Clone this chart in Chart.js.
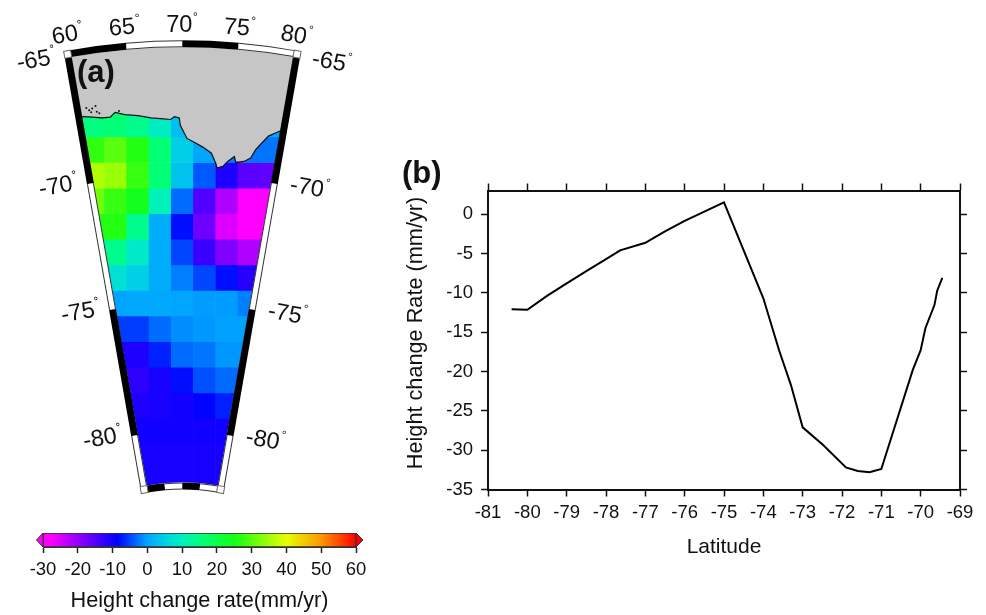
<!doctype html>
<html lang="en">

<head>
    <meta charset="utf-8">
    <title>Height change rate</title>
    <script src="https://cdn.jsdelivr.net/npm/chart.js@4"></script>
    <style>
        body { margin: 0; background: #fff; }
        canvas { position: absolute; }
    </style>
</head>

<body>
    <canvas id="map" width="400" height="510" style="left:0;top:0"></canvas>
    <canvas id="bar" width="400" height="95" style="left:0;top:520px"></canvas>
    <canvas id="line" width="586" height="420" style="left:400px;top:150px"></canvas>

    <script>
        // panel (b)
        var latitudes = [-80.4, -80, -79.5, -79, -78.5, -78, -77.64, -77, -76.5, -76, -75, -74, -73.6, -73.3, -73, -72.48, -71.9, -71.6, -71.3, -71, -70.2, -70, -69.88, -69.65, -69.58, -69.45];
        var heightRates = [-12.1, -12.15, -10.4, -8.8, -7.25, -5.72, -4.6, -3.65, -2.2, -0.85, 1.5, -10.7, -17.3, -21.7, -27.1, -29.35, -32.2, -32.65, -32.8, -32.4, -19.8, -17.3, -14.5, -11.56, -9.74, -8.1];

        // panel (a): grid cells, one row per latitude, columns are map distance from the 70E meridian
        var rowLats = [-68, -69, -70, -71, -72, -73, -74, -75, -76, -77, -78, -79, -80, -81, -82];
        var colX = [-3.49, -2.62, -1.75, -0.87, 0, 0.87, 1.75, 2.62, 3.49];
        var cellRates = [
            [15, 16, 14, 9.5, 3, 0, -1, -1, 0],
            [27, 30, 26, 16, 5, 0, -2.5, -2.5, -2.5],
            [36, 34.5, 27.5, 16, 3.5, -4, -11, -15.5, -16],
            [31.5, 27.5, 24, 10.5, -3, -14.8, -22, -28, -28],
            [26, 26, 14, 1, -8, -17, -25.5, -28, -28],
            [14, 14, 9, 1, -5, -13, -18.5, -22, -22],
            [7.5, 7.5, 5, 1, -2, -5, -8, -11.5, -11.5],
            [0, 0, 0.5, 0.5, 0, -0.5, -0.5, -2, -2],
            [-5.5, -5.5, -5.5, -3, -1.2, -0.7, -0.2, -0.2, -0.2],
            [-11, -11, -11, -7, -3, -2.5, -0.7, -0.7, -0.7],
            [-12, -12, -12, -10.5, -8, -4.5, -3, -3, -3],
            [-11, -11, -11, -10.5, -10, -8.5, -7, -7, -7],
            [-10, -10, -10, -10, -10, -10, -10, -10, -10],
            [-10.5, -10.5, -10.5, -10.5, -10.5, -10.5, -10.5, -10.5, -10.5],
            [-10.5, -10.5, -10.5, -10.5, -10.5, -10.5, -10.5, -10.5, -10.5]
        ];
        var coastX = [-8, -3.92, -3.54, -3.15, -2.83, -2.64, -2.26, -1.74, -1.23, -0.85, -0.46, -0.31, -0.12, -0.08, 0.18, 0.50, 0.82, 1.14, 1.31, 1.36, 1.59, 1.78, 2.04, 2.10, 2.42, 2.68, 2.87, 3.10, 3.38, 3.83, 8];
        var coastLat = [-67.71, -67.71, -67.73, -67.76, -67.73, -67.54, -67.63, -67.67, -67.76, -67.79, -67.82, -67.71, -67.76, -68.05, -68.56, -68.73, -68.91, -69.14, -69.53, -69.72, -69.65, -69.46, -69.27, -69.50, -69.46, -69.33, -69.01, -68.76, -68.47, -68.27, -68.2];
        var islandX = [-3.77, -3.66, -3.54, -3.41, -3.36, -3.26, -3.58, -2.49];
        var islandLat = [-67.37, -67.46, -67.39, -67.29, -67.52, -67.58, -67.54, -67.49];

        var lonTicks = [60, 65, 70, 75, 80];
        var latTicks = [-65, -70, -75, -80];

        // colour bar
        var colorValues = [-28, -8.7, 0, 6, 10, 15, 25, 40, 50, 60];
        var colorRgb = [[255, 0, 255], [0, 0, 255], [0, 165, 255], [0, 215, 225], [0, 240, 190], [0, 255, 128], [20, 255, 20], [230, 255, 0], [255, 150, 0], [255, 0, 0]];

        var FONT = '"Liberation Sans", Arial, sans-serif';
        var INK = '#111';

        function rateColor(v) {
            if (v <= colorValues[0]) return 'rgb(' + colorRgb[0].join(',') + ')';
            for (var i = 1; i < colorValues.length; i++) {
                if (v <= colorValues[i]) {
                    var t = (v - colorValues[i - 1]) / (colorValues[i] - colorValues[i - 1]);
                    var a = colorRgb[i - 1], b = colorRgb[i];
                    return 'rgb(' + Math.round(a[0] + (b[0] - a[0]) * t) + ',' + Math.round(a[1] + (b[1] - a[1]) * t) + ',' + Math.round(a[2] + (b[2] - a[2]) * t) + ')';
                }
            }
            return 'rgb(255,0,0)';
        }

        // polar projection: one map unit is one degree of latitude, the pole is at y = -90
        function project(scales, lon, lat) {
            var r = lat + 90, a = (lon - 70) * Math.PI / 180;
            return { x: scales.x.getPixelForValue(r * Math.sin(a)), y: scales.y.getPixelForValue(-90 + r * Math.cos(a)) };
        }

        function radius(scales, lat) {
            return scales.y.getPixelForValue(-90) - scales.y.getPixelForValue(lat);
        }

        function mapPath(ctx, scales) {
            var cx = scales.x.getPixelForValue(0), cy = scales.y.getPixelForValue(-90);
            var a = 10 * Math.PI / 180;
            ctx.beginPath();
            ctx.arc(cx, cy, radius(scales, -65), -Math.PI / 2 - a, -Math.PI / 2 + a);
            ctx.arc(cx, cy, radius(scales, -82), -Math.PI / 2 + a, -Math.PI / 2 - a, true);
            ctx.closePath();
        }

        var clipPlugin = {
            id: 'clipMap',
            beforeDatasetsDraw: function(chart) {
                chart.ctx.save();
                mapPath(chart.ctx, chart.scales);
                chart.ctx.clip();
            },
            afterDatasetsDraw: function(chart) {
                chart.ctx.restore();
            }
        };

        function band(ctx, draw, black) {
            ctx.lineCap = 'butt';
            ctx.strokeStyle = black ? '#000' : '#333';
            ctx.lineWidth = 7;
            draw();
            if (!black) {
                ctx.strokeStyle = '#fff';
                ctx.lineWidth = 5;
                draw();
            }
        }

        function degreeLabel(ctx, txt, x, y, rot) {
            ctx.save();
            ctx.translate(x, y);
            ctx.rotate(rot * Math.PI / 180);
            ctx.fillStyle = INK;
            ctx.font = '23.5px ' + FONT;
            ctx.textAlign = 'center';
            ctx.textBaseline = 'middle';
            ctx.fillText(txt, 0, 0);
            var w = ctx.measureText(txt).width;
            ctx.font = '12px ' + FONT;
            ctx.fillText('°', w / 2 + 3, -8);
            ctx.restore();
        }

        var framePlugin = {
            id: 'frameMap',
            afterDatasetsDraw: function(chart) {
                var ctx = chart.ctx, s = chart.scales;
                var cx = s.x.getPixelForValue(0), cy = s.y.getPixelForValue(-90);
                var off = 3.5;
                ctx.save();

                // longitude bands along the top and bottom arcs
                [[-65, off], [-82, -off]].forEach(function(edge) {
                    var r = radius(s, edge[0]) + edge[1];
                    for (var i = 0; i < 4; i++) {
                        var a0 = -Math.PI / 2 + (lonTicks[i] - 70) * Math.PI / 180;
                        var a1 = -Math.PI / 2 + (lonTicks[i + 1] - 70) * Math.PI / 180;
                        band(ctx, function() {
                            ctx.beginPath();
                            ctx.arc(cx, cy, r, a0, a1);
                            ctx.stroke();
                        }, i % 2 == 0);
                    }
                });

                // latitude bands along both side meridians
                var stops = latTicks.concat([-82]);
                [[60, -1], [80, 1]].forEach(function(side) {
                    var a = (side[0] - 70) * Math.PI / 180;
                    var nx = Math.cos(a) * side[1] * off, ny = Math.sin(a) * side[1] * off;
                    for (var i = 0; i < 4; i++) {
                        var p0 = project(s, side[0], stops[i]), p1 = project(s, side[0], stops[i + 1]);
                        band(ctx, function() {
                            ctx.beginPath();
                            ctx.moveTo(p0.x + nx, p0.y + ny);
                            ctx.lineTo(p1.x + nx, p1.y + ny);
                            ctx.stroke();
                        }, i % 2 == 0);
                    }
                });

                // white corner squares
                [[60, -65], [80, -65], [60, -82], [80, -82]].forEach(function(c) {
                    var p = project(s, c[0], c[1]);
                    var a = (c[0] - 70) * Math.PI / 180;
                    var dir = c[0] == 60 ? -1 : 1, up = c[1] == -65 ? 1 : -1;
                    ctx.save();
                    ctx.translate(p.x, p.y);
                    ctx.rotate(a);
                    ctx.fillStyle = '#fff';
                    ctx.strokeStyle = '#666';
                    ctx.lineWidth = 1;
                    var rx = dir < 0 ? -7 : 0, ry = up > 0 ? -7 : 0;
                    ctx.fillRect(rx, ry, 7, 7);
                    ctx.strokeRect(rx, ry, 7, 7);
                    ctx.restore();
                });

                // tick labels
                lonTicks.forEach(function(lon) {
                    var p = project(s, lon, -65 + 22 / 26);
                    degreeLabel(ctx, String(lon), p.x - 3, p.y, lon - 70);
                });
                latTicks.forEach(function(lat) {
                    var l = project(s, 60, lat), r = project(s, 80, lat);
                    degreeLabel(ctx, String(lat), l.x - 38, l.y + 4, -10);
                    degreeLabel(ctx, String(lat), r.x + 36, r.y + 5, 10);
                });

                ctx.fillStyle = INK;
                ctx.font = 'bold 31px ' + FONT;
                ctx.textAlign = 'left';
                ctx.textBaseline = 'alphabetic';
                ctx.fillText('(a)', 77, 82);
                ctx.restore();
            }
        };

        var cellSets = cellRates.map(function(row, r) {
            return {
                type: 'bar',
                order: 3,
                grouped: false,
                barPercentage: 1,
                categoryPercentage: 1,
                borderWidth: 0,
                backgroundColor: row.map(rateColor),
                data: row.map(function(v, c) {
                    return { x: colX[c], y: [rowLats[r] - 0.5, rowLats[r] + 0.5] };
                })
            };
        });

        cellSets.push({
            type: 'line',
            order: 2,
            data: coastX.map(function(x, i) { return { x: x, y: coastLat[i] }; }),
            borderColor: '#111',
            borderWidth: 1.2,
            pointRadius: 0,
            tension: 0,
            fill: 'end',
            backgroundColor: '#c6c6c6'
        });
        cellSets.push({
            type: 'scatter',
            order: 1,
            data: islandX.map(function(x, i) { return { x: x, y: islandLat[i] }; }),
            pointRadius: 1,
            borderWidth: 0,
            backgroundColor: '#111'
        });

        new Chart(document.getElementById('map'), {
            type: 'bar',
            data: { datasets: cellSets },
            plugins: [clipPlugin, framePlugin],
            options: {
                responsive: false,
                animation: false,
                plugins: { legend: { display: false }, tooltip: { enabled: false } },
                scales: {
                    x: { type: 'linear', display: false, offset: false, min: -7, max: 8.3846 },
                    y: { type: 'linear', display: false, min: -82.923, max: -63.308 }
                }
            }
        });

        // colour bar
        var endCaps = {
            id: 'endCaps',
            afterDatasetsDraw: function(chart) {
                var ctx = chart.ctx, a = chart.chartArea;
                var mid = (a.top + a.bottom) / 2;
                ctx.save();
                ctx.lineWidth = 1;
                ctx.strokeStyle = '#333';
                ctx.fillStyle = '#ff00ff';
                ctx.beginPath();
                ctx.moveTo(a.left, a.top);
                ctx.lineTo(a.left - 6.5, mid);
                ctx.lineTo(a.left, a.bottom);
                ctx.closePath();
                ctx.fill();
                ctx.stroke();
                ctx.fillStyle = '#ff0000';
                ctx.beginPath();
                ctx.moveTo(a.right, a.top);
                ctx.lineTo(a.right + 7, mid);
                ctx.lineTo(a.right, a.bottom);
                ctx.closePath();
                ctx.fill();
                ctx.stroke();
                ctx.restore();
            }
        };

        new Chart(document.getElementById('bar'), {
            type: 'bar',
            data: {
                labels: ['rate'],
                datasets: [{
                    data: [[-30, 60]],
                    barPercentage: 1,
                    categoryPercentage: 1,
                    borderWidth: 1,
                    borderSkipped: false,
                    borderColor: '#333',
                    backgroundColor: function(context) {
                        var chart = context.chart;
                        if (!chart.chartArea) return '#888';
                        var x = chart.scales.x;
                        var g = chart.ctx.createLinearGradient(x.left, 0, x.right, 0);
                        g.addColorStop(0, rateColor(-30));
                        colorValues.forEach(function(v) {
                            g.addColorStop((v + 30) / 90, rateColor(v));
                        });
                        return g;
                    }
                }]
            },
            plugins: [endCaps],
            options: {
                indexAxis: 'y',
                responsive: false,
                animation: false,
                layout: { padding: { left: 43, right: 44, top: 13, bottom: 0 } },
                plugins: { legend: { display: false }, tooltip: { enabled: false } },
                scales: {
                    y: { display: false },
                    x: {
                        type: 'linear',
                        min: -30,
                        max: 60,
                        afterFit: function(scale) { scale.height = 68; },
                        border: { color: '#333', width: 1 },
                        grid: { drawOnChartArea: false, tickLength: 6, tickColor: '#222', tickWidth: 1.5 },
                        ticks: { stepSize: 10, color: INK, padding: 6, maxRotation: 0, font: { family: FONT, size: 18.5 } },
                        title: { display: true, text: 'Height change rate(mm/yr)', color: INK, padding: { top: 6, bottom: 1 }, font: { family: FONT, size: 21.7 } }
                    }
                }
            }
        });

        // panel (b): letter and y axis title sit off the axis centre in the original
        var letterB = {
            id: 'letterB',
            afterDraw: function(chart) {
                var ctx = chart.ctx;
                ctx.save();
                ctx.fillStyle = INK;
                ctx.font = 'bold 31px ' + FONT;
                ctx.fillText('(b)', 2, 33);
                ctx.translate(16, 183);
                ctx.rotate(-Math.PI / 2);
                ctx.font = '21.7px ' + FONT;
                ctx.textAlign = 'center';
                ctx.textBaseline = 'middle';
                ctx.fillText('Height change Rate (mm/yr)', 0, 0);
                ctx.restore();
            }
        };

        var tickGrid = { drawOnChartArea: false, tickLength: 7, tickColor: '#111', tickWidth: 1.5 };
        var axisLine = { color: '#111', width: 2 };

        new Chart(document.getElementById('line'), {
            type: 'line',
            data: {
                datasets: [{
                    data: latitudes.map(function(x, i) { return { x: x, y: heightRates[i] }; }),
                    borderColor: '#000',
                    borderWidth: 2,
                    pointRadius: 0,
                    tension: 0,
                    fill: false
                }]
            },
            plugins: [letterB],
            options: {
                responsive: false,
                animation: false,
                layout: { padding: { top: 32, right: 18, bottom: 10.5, left: 0 } },
                plugins: { legend: { display: false }, tooltip: { enabled: false } },
                scales: {
                    x: {
                        type: 'linear',
                        position: 'bottom',
                        min: -81,
                        max: -69,
                        afterFit: function(scale) { scale.height = 70; },
                        border: axisLine,
                        grid: tickGrid,
                        ticks: { stepSize: 1, color: INK, padding: 5, maxRotation: 0, autoSkip: false, font: { family: FONT, size: 18.5 } },
                        title: { display: true, text: 'Latitude', color: INK, padding: { top: 8, bottom: 0 }, font: { family: FONT, size: 21 } }
                    },
                    xTop: {
                        type: 'linear',
                        axis: 'x',
                        position: 'top',
                        min: -81,
                        max: -69,
                        afterFit: function(scale) { scale.height = 8.5; },
                        border: axisLine,
                        grid: tickGrid,
                        ticks: { stepSize: 1, display: false }
                    },
                    y: {
                        type: 'linear',
                        position: 'left',
                        min: -35,
                        max: 3,
                        afterFit: function(scale) { scale.width = 88; },
                        border: axisLine,
                        grid: tickGrid,
                        ticks: { stepSize: 5, includeBounds: false, color: INK, padding: 8, font: { family: FONT, size: 18.5 } }
                    },
                    yRight: {
                        type: 'linear',
                        axis: 'y',
                        position: 'right',
                        min: -35,
                        max: 3,
                        afterFit: function(scale) { scale.width = 8; },
                        border: axisLine,
                        grid: tickGrid,
                        ticks: { stepSize: 5, includeBounds: false, display: false }
                    }
                }
            }
        });
    </script>
</body>

</html>
